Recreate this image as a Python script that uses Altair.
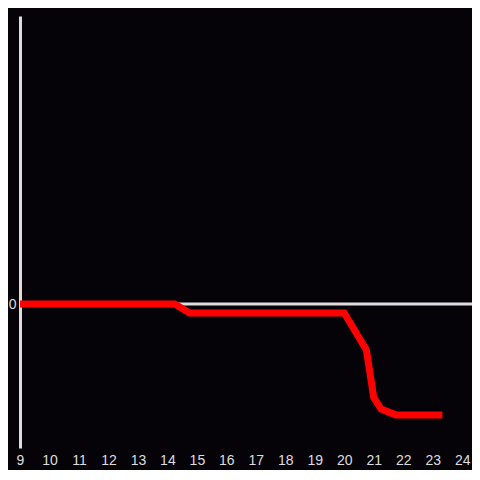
import altair as alt
import pandas as pd

hours = [9, 14.25, 14.75, 20.0, 20.75, 21.0, 21.25, 21.75, 23.33]
values = [0, 0, -0.0625, -0.0625, -0.32, -0.65, -0.73, -0.77, -0.77]
tick_values = list(range(9, 25))

df = pd.DataFrame({"hour": hours, "value": values})

xscale = alt.Scale(domain=[9, 24.333], nice=False, zero=False)
yscale = alt.Scale(domain=[-1, 2], nice=False, zero=False)

xaxis = alt.Axis(values=tick_values, domain=False, ticks=False, grid=False,
                 labelColor="#dddddd", labelFontSize=14, labelFont="Liberation Sans",
                 labelPadding=5, labelFlush=False, labelOverlap=False)
yaxis = alt.Axis(values=[0], domain=True, domainColor="#dddddd", domainWidth=3,
                 ticks=False, grid=False, labelColor="#dddddd", labelFontSize=14,
                 labelFont="Liberation Sans", labelPadding=4)

rule = alt.Chart(pd.DataFrame({"v": [0]})).mark_rule(color="#dddddd", strokeWidth=3).encode(
    y=alt.Y("v:Q", scale=yscale, title=None, axis=yaxis)
)

line = alt.Chart(df).mark_line(color="#ff0000", strokeWidth=7, strokeJoin="miter").encode(
    x=alt.X("hour:Q", scale=xscale, title=None, axis=xaxis),
    y=alt.Y("value:Q", scale=yscale, title=None, axis=yaxis),
)

chart = alt.layer(rule, line).properties(
    width=452, height=432,
    background="#050307",
    autosize="none",
    padding={"left": 12, "top": 8, "right": 0, "bottom": 22},
).configure_view(stroke=None)

chart.save("out.html", embed_options={"renderer": "svg", "actions": False})
